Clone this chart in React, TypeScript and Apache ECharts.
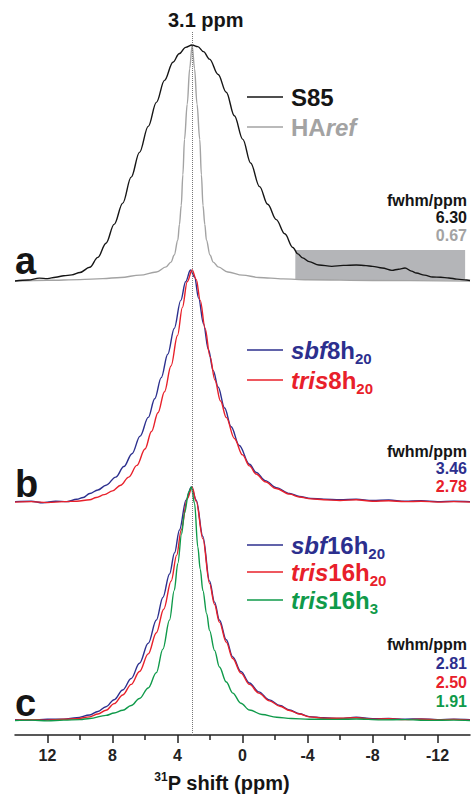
import React, { useEffect, useRef } from "react";
import * as echarts from "echarts";

// ---- data (ppm, normalised intensity) ----
const ppmTicks = [12, 8, 4, 0, -4, -8, -12];
const ppmMinorTicks = [10, 6, 2, -2, -6, -10];
const peakPpm = 3.1;

const s85 = [
  [14, 0.0], [13.2, 0.004], [12.5, 0.012], [12.0, 0.01], [11.5, 0.016], [11.0, 0.022],
  [10.5, 0.026], [10.0, 0.036], [9.4, 0.058], [8.9, 0.1], [8.4, 0.16], [7.9, 0.24],
  [7.37, 0.33], [6.85, 0.44], [6.34, 0.545], [5.8, 0.655], [5.3, 0.757], [4.8, 0.85],
  [4.28, 0.927], [3.9, 0.963], [3.5, 0.99], [3.1, 1.0], [2.75, 0.993], [2.4, 0.972],
  [2.03, 0.94], [1.5, 0.875], [1.0, 0.8], [0.5, 0.7], [-0.02, 0.6], [-0.5, 0.5], [-1.05, 0.4],
  [-1.55, 0.325], [-2.08, 0.26], [-2.6, 0.2], [-3.1, 0.142], [-3.4, 0.115], [-3.7, 0.098],
  [-4.1, 0.082], [-4.7, 0.068], [-5.5, 0.062], [-6.2, 0.066], [-7.0, 0.068], [-7.6, 0.065],
  [-8.0, 0.062], [-8.6, 0.055], [-9.2, 0.045], [-9.6, 0.05], [-10.0, 0.055], [-10.4, 0.042],
  [-10.7, 0.034], [-11.2, 0.025], [-11.7, 0.017], [-12.2, 0.016], [-12.7, 0.013],
  [-13.2, 0.008], [-13.8, 0.004], [-14, 0.002],
];

const haRef = [
  [14, 0.0], [12, 0.003], [10, 0.006], [8.6, 0.01], [7.5, 0.015], [6.3, 0.025], [5.3, 0.038],
  [4.7, 0.06], [4.4, 0.08], [4.2, 0.11], [3.98, 0.174], [3.88, 0.24], [3.77, 0.32],
  [3.67, 0.45], [3.57, 0.6], [3.4, 0.75], [3.25, 0.9], [3.1, 1.0], [2.95, 0.9], [2.8, 0.75],
  [2.63, 0.6], [2.53, 0.45], [2.43, 0.32], [2.32, 0.24], [2.22, 0.174], [2.0, 0.11],
  [1.8, 0.08], [1.5, 0.06], [0.9, 0.038], [0.0, 0.025], [-1.0, 0.015], [-2.5, 0.009],
  [-4, 0.005], [-8, 0.002], [-14, 0.0],
];

const sbf8h20 = [
  [14, 0.01], [13, 0.012], [12.3, 0.005], [11.5, 0.012], [10.8, 0.01], [10.2, 0.02], [9.8, 0.028],
  [9.4, 0.045], [8.9, 0.06], [8.4, 0.08], [7.8, 0.115], [7.3, 0.16], [6.8, 0.215], [6.3, 0.29],
  [5.8, 0.37], [5.4, 0.45], [5.0, 0.54], [4.6, 0.64], [4.2, 0.75], [3.8, 0.87], [3.5, 0.95],
  [3.2, 1.0], [2.95, 0.97], [2.7, 0.88], [2.4, 0.77], [2.1, 0.66], [1.8, 0.57], [1.5, 0.5],
  [1.1, 0.41], [0.7, 0.33], [0.2, 0.25], [-0.43, 0.17], [-0.84, 0.135], [-1.4, 0.1],
  [-2.07, 0.07], [-2.9, 0.045], [-3.5, 0.032], [-4.2, 0.024], [-5, 0.021], [-6, 0.018],
  [-7, 0.02], [-8, 0.015], [-9, 0.017], [-10, 0.012], [-11, 0.014], [-12, 0.01], [-13, 0.012],
  [-14, 0.01],
];

const tris8h20 = [
  [14, 0.008], [13, 0.01], [12, 0.006], [11, 0.01], [10.2, 0.012], [9.4, 0.018], [9, 0.028],
  [8.5, 0.04], [8, 0.056], [7.5, 0.08], [7.0, 0.115], [6.5, 0.165], [6.0, 0.235], [5.6, 0.31],
  [5.2, 0.39], [4.8, 0.48], [4.4, 0.59], [4.0, 0.72], [3.7, 0.84], [3.4, 0.95], [3.1, 1.0],
  [2.85, 0.96], [2.6, 0.87], [2.3, 0.75], [2.0, 0.63], [1.7, 0.53], [1.35, 0.44], [1.0, 0.37],
  [0.5, 0.28], [0, 0.21], [-0.43, 0.163], [-0.84, 0.128], [-1.4, 0.095], [-2.07, 0.066],
  [-2.9, 0.042], [-3.5, 0.03], [-4.2, 0.022], [-5, 0.018], [-6, 0.015], [-7, 0.018], [-8, 0.012],
  [-9, 0.014], [-10, 0.01], [-11, 0.012], [-12, 0.008], [-13, 0.01], [-14, 0.008],
];

const sbf16h20 = [
  [14, 0.01], [13, 0.008], [12, 0.012], [11, 0.012], [10.2, 0.018], [9.4, 0.03], [8.9, 0.045],
  [8.4, 0.065], [7.9, 0.095], [7.37, 0.136], [6.85, 0.185], [6.34, 0.25], [5.8, 0.335],
  [5.3, 0.434], [4.9, 0.53], [4.49, 0.63], [4.18, 0.72], [3.88, 0.817], [3.47, 0.945],
  [3.15, 1.0], [2.85, 0.945], [2.44, 0.79], [2.03, 0.6], [1.72, 0.51], [1.42, 0.434],
  [1.0, 0.35], [0.6, 0.277], [0.1, 0.215], [-0.43, 0.166], [-1.0, 0.128], [-1.66, 0.094],
  [-2.3, 0.07], [-2.9, 0.051], [-3.5, 0.035], [-4.1, 0.023], [-5, 0.018], [-6, 0.015],
  [-7, 0.02], [-8, 0.014], [-9, 0.015], [-10, 0.012], [-11, 0.013], [-12, 0.01], [-13, 0.012],
  [-14, 0.01],
];

const tris16h20 = [
  [14, 0.008], [13, 0.01], [12, 0.008], [11, 0.012], [10.2, 0.014], [9.4, 0.022], [8.9, 0.034],
  [8.4, 0.05], [7.9, 0.078], [7.37, 0.115], [6.85, 0.16], [6.34, 0.215], [5.8, 0.29],
  [5.3, 0.38], [4.85, 0.48], [4.39, 0.6], [4.05, 0.71], [3.77, 0.817], [3.4, 0.95], [3.1, 1.0],
  [2.85, 0.94], [2.44, 0.78], [2.03, 0.59], [1.72, 0.5], [1.42, 0.425], [1.0, 0.34],
  [0.6, 0.27], [0.1, 0.208], [-0.43, 0.16], [-1.0, 0.123], [-1.66, 0.09], [-2.3, 0.067],
  [-2.9, 0.049], [-3.5, 0.034], [-4.1, 0.022], [-5, 0.016], [-6, 0.016], [-7, 0.018],
  [-8, 0.012], [-9, 0.014], [-10, 0.01], [-11, 0.012], [-12, 0.009], [-13, 0.011], [-14, 0.008],
];

const tris16h3 = [
  [14, 0.006], [13, 0.008], [12, 0.005], [11, 0.008], [10, 0.01], [9.4, 0.015], [8.4, 0.028],
  [7.9, 0.038], [7.37, 0.05], [6.85, 0.07], [6.34, 0.1], [5.8, 0.145], [5.3, 0.21], [4.9, 0.31],
  [4.49, 0.434], [4.2, 0.56], [3.98, 0.675], [3.75, 0.8], [3.57, 0.89], [3.3, 0.98], [3.15, 1.0],
  [2.95, 0.93], [2.75, 0.745], [2.6, 0.65], [2.44, 0.56], [2.2, 0.46], [2.03, 0.39],
  [1.72, 0.305], [1.42, 0.234], [1.0, 0.17], [0.6, 0.123], [0.1, 0.08], [-0.43, 0.051],
  [-1.2, 0.032], [-2.1, 0.02], [-3, 0.015], [-4.1, 0.012], [-5.5, 0.011], [-7, 0.013],
  [-8.5, 0.009], [-10, 0.01], [-11.5, 0.007], [-13, 0.008], [-14, 0.006],
];

const fwhmA = ["6.30", "0.67"];
const fwhmB = ["3.46", "2.78"];
const fwhmC = ["2.81", "2.50", "1.91"];
const panelLetters = ["a", "b", "c"];

// ---- styling ----
const FONT = '"Liberation Sans", Arial, Helvetica, sans-serif';
const BLACK = "#151515";
const GRAY = "#a3a3a3";
const BLUE = "#2c2f8e";
const RED = "#e8202a";
const GREEN = "#0f9a4a";

const GRID_LEFT = 15;
const GRID_RIGHT = 3;
const LEG = 24;
const FW = 16;

function legendRich(color: string, size: number) {
  return {
    i: { fontFamily: FONT, fontStyle: "italic", fontWeight: "bold", fontSize: size, lineHeight: 32, fill: color },
    n: { fontFamily: FONT, fontWeight: "bold", fontSize: size, lineHeight: 32, fill: color },
    s: { fontFamily: FONT, fontWeight: "bold", fontSize: 15, lineHeight: 16, verticalAlign: "bottom", fill: color },
  };
}

function legendItem(y: number, color: string, rich: string) {
  return [
    {
      type: "line",
      shape: { x1: 247, y1: y, x2: 283, y2: y },
      style: { stroke: color, lineWidth: 1.3 },
      z: 10,
    },
    {
      type: "text",
      x: 291,
      y,
      z: 10,
      style: { text: rich, rich: legendRich(color, LEG), align: "left", verticalAlign: "middle", fill: color },
    },
  ];
}

function plainText(text: string, x: number, y: number, color: string, size: number, align = "right") {
  return {
    type: "text",
    x,
    y,
    z: 10,
    style: { text, fontFamily: FONT, fontWeight: "bold", fontSize: size, fill: color, align, verticalAlign: "middle" },
  };
}

function fwhmBlock(values: string[], colors: string[], yTop: number, step: number) {
  const items: any[] = [plainText("fwhm/ppm", 467, yTop, BLACK, FW)];
  values.forEach((v, i) => items.push(plainText(v, 467, yTop + step * (i + 1), colors[i], FW)));
  return items;
}

function lineSeries(name: string, data: number[][], color: string, idx: number, extra: any = {}) {
  return {
    name,
    type: "line",
    data,
    xAxisIndex: idx,
    yAxisIndex: idx,
    showSymbol: false,
    smooth: 0.35,
    smoothMonotone: "x",
    clip: false,
    lineStyle: { color, width: 1.4 },
    itemStyle: { color },
    silent: true,
    ...extra,
  };
}

export default function App() {
  const ref = useRef<HTMLDivElement>(null);

  useEffect(() => {
    if (!ref.current) return;
    const chart = echarts.init(ref.current, null, { renderer: "svg" });

    const hiddenX = (i: number) => ({
      type: "value", gridIndex: i, min: -14, max: 14, inverse: true, show: false,
    });
    const hiddenY = (i: number) => ({
      type: "value", gridIndex: i, min: 0, max: 1, show: false,
    });

    const option: any = {
      animation: false,
      backgroundColor: "#ffffff",
      grid: [
        { left: GRID_LEFT, right: GRID_RIGHT, top: 45, height: 236 },
        { left: GRID_LEFT, right: GRID_RIGHT, top: 270, height: 234 },
        { left: GRID_LEFT, right: GRID_RIGHT, top: 487, height: 235 },
        { left: GRID_LEFT, right: GRID_RIGHT, top: 32, height: 703 },
      ],
      xAxis: [
        hiddenX(0),
        hiddenX(1),
        hiddenX(2),
        {
          type: "value", gridIndex: 3, min: -14, max: 14, inverse: true, position: "bottom",
          axisLine: { show: true, onZero: false, lineStyle: { color: "#222", width: 1.5 } },
          axisTick: { show: true, customValues: ppmTicks, length: 8, lineStyle: { color: "#222", width: 1.5 } },
          axisLabel: { customValues: ppmTicks, margin: 12, fontSize: 16, fontWeight: "bold", color: "#222", fontFamily: FONT },
          splitLine: { show: false },
        },
        {
          type: "value", gridIndex: 3, min: -14, max: 14, inverse: true, position: "bottom",
          axisLine: { show: false, onZero: false },
          axisTick: { show: true, customValues: ppmMinorTicks, length: 5, lineStyle: { color: "#222", width: 1.5 } },
          axisLabel: { show: false },
          splitLine: { show: false },
        },
      ],
      yAxis: [hiddenY(0), hiddenY(1), hiddenY(2), hiddenY(3)],
      series: [
        lineSeries("HAref", haRef, GRAY, 0),
        lineSeries("S85", s85, BLACK, 0, {
          markArea: {
            silent: true,
            itemStyle: { color: "#b4b5b8" },
            data: [[{ xAxis: -3.25, yAxis: 0.004 }, { xAxis: -13.7, yAxis: 0.131 }]],
          },
        }),
        lineSeries("sbf8h20", sbf8h20, BLUE, 1),
        lineSeries("tris8h20", tris8h20, RED, 1),
        lineSeries("sbf16h20", sbf16h20, BLUE, 2),
        lineSeries("tris16h20", tris16h20, RED, 2),
        lineSeries("tris16h3", tris16h3, GREEN, 2),
        {
          type: "line",
          xAxisIndex: 3,
          yAxisIndex: 3,
          data: [],
          silent: true,
          markLine: {
            silent: true,
            symbol: ["none", "none"],
            label: { show: false },
            lineStyle: { color: "#777", type: "dotted", width: 1 },
            data: [{ xAxis: peakPpm }],
          },
        },
      ],
      graphic: [
        plainText(peakPpm + " ppm", 168, 20, BLACK, 20, "left"),
        ...legendItem(97, BLACK, "{n|S85}"),
        ...legendItem(127, GRAY, "{n|HA}{i|ref}"),
        ...fwhmBlock(fwhmA, [BLACK, GRAY], 200, 17.5),
        plainText(panelLetters[0], 15, 261, BLACK, 38, "left"),

        ...legendItem(350, BLUE, "{i|sbf}{n|8h}{s|20}"),
        ...legendItem(380, RED, "{i|tris}{n|8h}{s|20}"),
        ...fwhmBlock(fwhmB, [BLUE, RED], 451, 17.5),
        plainText(panelLetters[1], 15, 484, BLACK, 38, "left"),

        ...legendItem(545, BLUE, "{i|sbf}{n|16h}{s|20}"),
        ...legendItem(572, RED, "{i|tris}{n|16h}{s|20}"),
        ...legendItem(600, GREEN, "{i|tris}{n|16h}{s|3}"),
        ...fwhmBlock(fwhmC, [BLUE, RED, GREEN], 644, 19),
        plainText(panelLetters[2], 15, 703, BLACK, 38, "left"),

        {
          type: "text",
          x: 222,
          y: 783,
          z: 10,
          style: {
            text: "{sup|31}{n|P shift (ppm)}",
            align: "center",
            verticalAlign: "middle",
            rich: {
              sup: { fontFamily: FONT, fontWeight: "bold", fontSize: 12, lineHeight: 12, verticalAlign: "top", fill: BLACK },
              n: { fontFamily: FONT, fontWeight: "bold", fontSize: 20, lineHeight: 24, fill: BLACK },
            },
          },
        },
      ],
    };

    chart.setOption(option);
    return () => chart.dispose();
  }, []);

  return (
    <div
      ref={ref}
      style={{ position: "fixed", left: 0, top: 0, width: 473, height: 794, background: "#fff" }}
    />
  );
}
